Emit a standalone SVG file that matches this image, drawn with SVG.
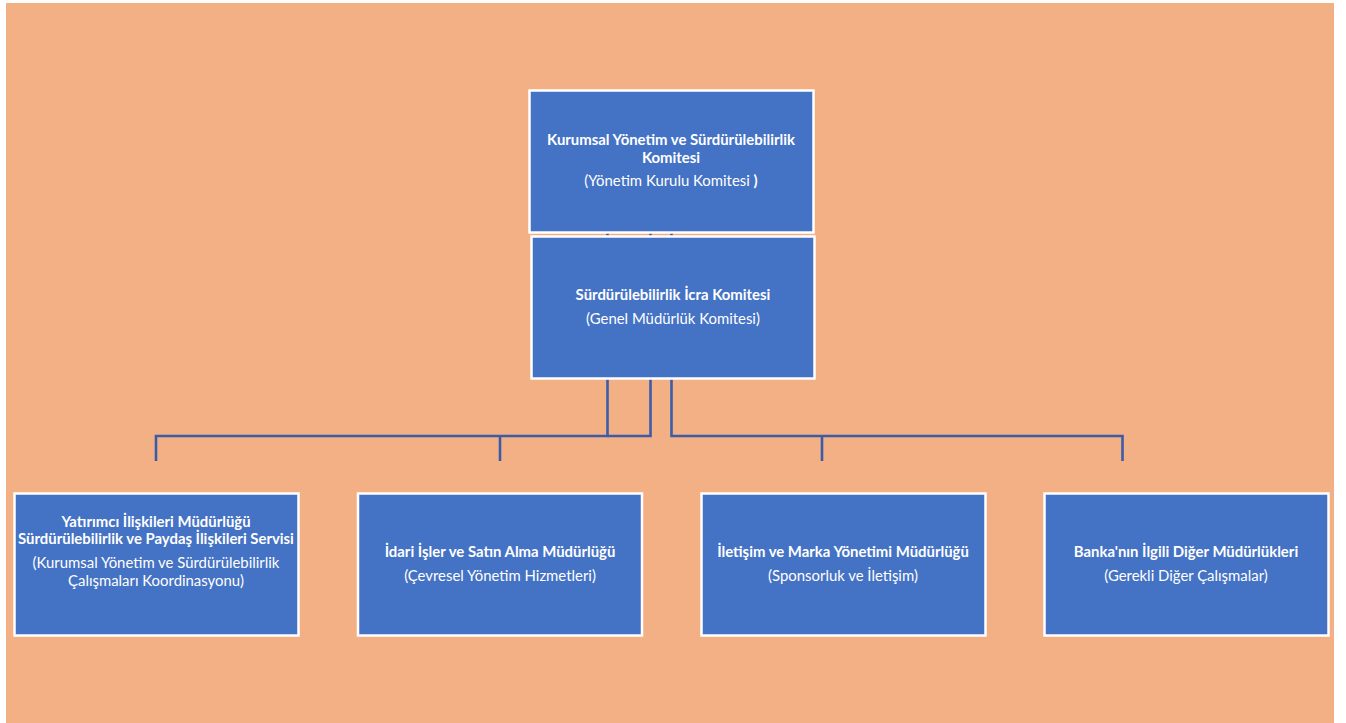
<svg xmlns="http://www.w3.org/2000/svg" width="1346" height="723" viewBox="0 0 1346 723">
<style>
.bg{fill:#F4B085}
.box{fill:#4472C4;stroke:#FFFFFF;stroke-width:2.5}
.conn{fill:none;stroke:#3B5CA8;stroke-width:2.6}
text{font-family:Lato,"Liberation Sans",sans-serif;fill:#FFFFFF;text-anchor:middle;font-size:14.9px}
.b{font-weight:bold}
</style>
<rect x="0" y="0" width="1346" height="723" fill="#FFFFFF"/>
<rect class="bg" x="6" y="3" width="1328" height="720"/>
<g id="connectors">
<path class="conn" d="M607.5,233 V436 H156 V461"/>
<path class="conn" d="M500,436 V461"/>
<path class="conn" d="M650.5,233 V436 H607.5"/>
<path class="conn" d="M671.5,233 V436 H1122.5 V461"/>
<path class="conn" d="M822,436 V461"/>
</g>
<g id="node-kurumsal">
<rect class="box" x="529.5" y="90.5" width="284" height="142"/>
<text class="b" x="671" y="145">Kurumsal Yönetim ve Sürdürülebilirlik</text>
<text class="b" x="671" y="163">Komitesi</text>
<text x="671" y="186">(Yönetim Kurulu Komitesi <tspan class="b">)</tspan></text>
</g>
<g id="node-icra">
<rect class="box" x="531.5" y="236.5" width="283" height="142"/>
<text class="b" x="673" y="300">Sürdürülebilirlik İcra Komitesi</text>
<text x="673" y="324">(Genel Müdürlük Komitesi)</text>
</g>
<g id="node-yatirimci">
<rect class="box" x="14.5" y="493.5" width="284" height="142"/>
<text class="b" x="156" y="527">Yatırımcı İlişkileri Müdürlüğü</text>
<text class="b" x="156" y="544">Sürdürülebilirlik ve Paydaş İlişkileri Servisi</text>
<text x="156" y="568">(Kurumsal Yönetim ve Sürdürülebilirlik</text>
<text x="156" y="586">Çalışmaları Koordinasyonu)</text>
</g>
<g id="node-idari">
<rect class="box" x="358" y="493.5" width="284" height="142"/>
<text class="b" x="500" y="557">İdari İşler ve Satın Alma Müdürlüğü</text>
<text x="500" y="581">(Çevresel Yönetim Hizmetleri)</text>
</g>
<g id="node-iletisim">
<rect class="box" x="701.5" y="493.5" width="284" height="142"/>
<text class="b" x="843" y="557">İletişim ve Marka Yönetimi Müdürlüğü</text>
<text x="843" y="581">(Sponsorluk ve İletişim)</text>
</g>
<g id="node-banka">
<rect class="box" x="1044.5" y="493.5" width="284" height="142"/>
<text class="b" x="1186" y="557">Banka'nın İlgili Diğer Müdürlükleri</text>
<text x="1186" y="581">(Gerekli Diğer Çalışmalar)</text>
</g>
</svg>
